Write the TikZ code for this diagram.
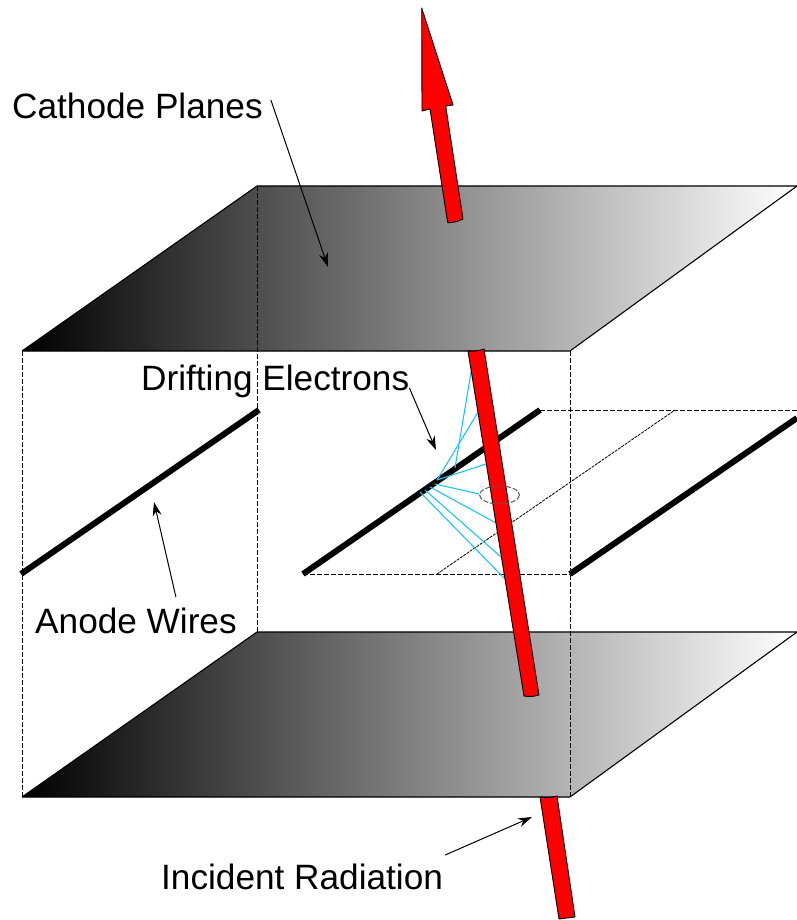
\documentclass[tikz,border=0pt]{standalone}
\usepackage{fontspec}
\setmainfont{Liberation Sans}
\usetikzlibrary{arrows.meta}

\begin{document}
\begin{tikzpicture}[
  x=1pt, y=-1pt,
  lbl/.style={anchor=base west, inner sep=0pt, font=\fontsize{35.2}{40}\selectfont},
  plane/.style={left color=black, right color=white},
  edgeln/.style={line width=1.1pt},
  dashln/.style={line width=1pt, dash pattern=on 5pt off 2pt},
  fineln/.style={line width=0.8pt, dash pattern=on 3pt off 1pt},
  wire/.style={line width=6pt},
  beam/.style={fill=red, draw=black, line width=0.9pt, line join=round},
  drift/.style={draw={rgb,255:red,30;green,195;blue,250}, line width=1.1pt},
  lead/.style={line width=1pt, -{Stealth[length=14pt,width=9pt]}}
]
\useasboundingbox (0,0) rectangle (796,920);
% cathode planes
\shade[plane] (22,351) -- (257,186) -- (797,186) -- (570,351) -- cycle;
\shade[plane] (22,797) -- (257,632) -- (797,632) -- (570,797) -- cycle;
\draw[edgeln] (22,351) -- (257,186) -- (797,186);
\draw[edgeln] (797,186) -- (570,351) -- (22,351);
\draw[edgeln] (22,797) -- (257,632) -- (797,632);
\draw[edgeln] (797,632) -- (570,797) -- (22,797);
% box edges
\draw[dashln] (22,351) -- (22,797);
\draw[dashln] (570,351) -- (570,797);
\draw[dashln] (257,186) -- (257,632);
% anode wires and cell
\draw[dashln] (303,574) -- (570,574);
\draw[dashln] (540,410) -- (797,410);
\draw[fineln] (437,574) -- (675,410);
\draw[wire] (21,574) -- (259,410);
\draw[wire] (303,574) -- (540,410);
\draw[wire] (570,574) -- (797,418);
% drifting electrons
\foreach \a/\b/\c/\d in {471.7/368/455/468, 477.7/412.7/437/480, 486/464/437/480, 479/494/435/484, 496/523/430/487, 501/557/425/490, 505/579/420/492}
  \draw[drift] (\a,\b) -- (\c,\d);
% radiation track
\draw[beam] (421.7,8) -- (422,111) -- (430,109) -- (447.7,222.7) to[bend right=12] (463,219) -- (445.7,106) -- (453,105) -- cycle;
\draw[beam] (468,351) to[bend right=12] (484,349) -- (539,695) to[bend left=12] (524,696) -- cycle;
\draw[beam] (540,797) to[bend right=12] (557,796) -- (575,917) -- (559,919) -- cycle;
\draw[black!65, line width=1pt, dash pattern=on 5pt off 2pt] (499.5,495) ellipse [x radius=20, y radius=9];
% labels
\node[lbl] (cathode) at (12,119) {Cathode Planes};
\node[lbl] (drifting) at (141,390) {Drifting Electrons};
\node[lbl] (anode) at (35,633) {Anode Wires};
\node[lbl] (incident) at (161,889) {Incident Radiation};
\coordinate (cathodetip) at (328,267);
\coordinate (driftingtip) at (436,450);
\coordinate (anodetip) at (154,502);
\coordinate (incidenttip) at (532,817);
\draw[lead] ([shift={(8,-19)}]cathode.base east) -- (cathodetip);
\draw[lead] ([shift={(0,-2)}]drifting.base east) -- (driftingtip);
\draw[lead] ([shift={(-61,-36)}]anode.base east) -- (anodetip);
\draw[lead] ([shift={(2,-34)}]incident.base east) -- (incidenttip);
\end{tikzpicture}
\end{document}
